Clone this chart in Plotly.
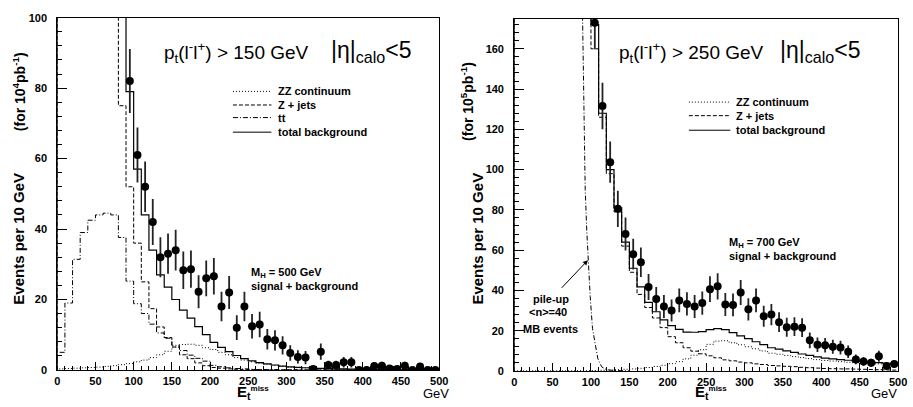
import plotly.graph_objects as go

W, H = 913, 407
FONT = "Liberation Sans"

# ---------------- data: left panel (pt > 150 GeV, M_H = 500 GeV) ----------------
bin_edges = list(range(0, 510, 10))  # 10 GeV bins, 0..500

L_zz = [0.3, 0.4, 0.5, 0.6, 0.7, 0.8, 1.0, 1.2, 1.5, 1.8,
        2.3, 2.8, 3.5, 4.3, 5.3, 6.5, 7.2, 7.3, 7.0, 6.3,
        5.8, 5.0, 4.3, 3.5, 2.8, 2.3, 1.9, 1.6, 1.3, 1.0,
        0.8, 0.65, 0.55, 0.45, 0.38, 0.32, 0.27, 0.23, 0.2, 0.17,
        0.15, 0.13, 0.11, 0.1, 0.09, 0.08, 0.07, 0.06, 0.05, 0.05]
L_zjets = [900, 1220, 1030, 840, 640, 440, 290, 190, 75, 52,
           36, 25, 17.4, 12.2, 9.2, 6.5, 4.3, 3.2, 2.0, 1.2,
           0.7, 0.5, 0.3, 0.2, 0.1, 0.1, 0.1, 0.05, 0.05, 0.05,
           0.05, 0.05, 0.0, 0.0, 0.0, 0.0, 0.0, 0.0, 0.0, 0.0,
           0.0, 0.0, 0.0, 0.0, 0.0, 0.0, 0.0, 0.0, 0.0, 0.0]
L_tt = [5, 19, 31.4, 39, 42.5, 44, 44.5, 44, 37.6, 25.2,
        18.8, 16, 13, 10.5, 9, 7, 5.5, 4.2, 3.3, 2.5,
        1.3, 0.9, 0.6, 0.4, 0.3, 0.2, 0.1, 0.1, 0.1, 0.05,
        0.05, 0.0, 0.0, 0.0, 0.0, 0.0, 0.0, 0.0, 0.0, 0.0,
        0.0, 0.0, 0.0, 0.0, 0.0, 0.0, 0.0, 0.0, 0.0, 0.0]
L_total = [905, 1239, 1031, 839, 643, 445, 296, 195, 114, 79,
           57, 44, 34, 27, 23.5, 20, 17, 14.7, 12.3, 10,
           7.8, 6.4, 5.2, 4.1, 3.2, 2.6, 2.1, 1.7, 1.4, 1.1,
           0.9, 0.75, 0.62, 0.52, 0.45, 0.38, 0.32, 0.28, 0.24, 0.21,
           0.18, 0.16, 0.14, 0.12, 0.1, 0.09, 0.08, 0.07, 0.06, 0.06]

L_pts_x = [95, 105, 115, 125, 135, 145, 155, 165, 175, 185,
           195, 205, 215, 225, 235, 245, 255, 265, 275, 285,
           295, 305, 315, 325, 335, 345, 355, 365, 375, 385,
           395, 405, 415, 425, 435, 445, 455, 465, 475, 485, 495]
L_pts_y = [82, 61, 52, 42, 32, 33, 34, 28.3, 28.6, 22.2,
           26, 26.6, 18, 22, 12, 18, 12.4, 12.9, 8.7, 8.4,
           7, 4.8, 3.7, 3.5, 0.3, 5.2, 1.4, 1.4, 2.2, 2.2,
           0, 0, 1.1, 1.2, 0.4, 0.3, 1.2, 0, 1.0, 0, 0]
L_pts_err = [9.1, 7.8, 7.2, 6.5, 5.7, 5.7, 5.8, 5.3, 5.3, 4.7,
             5.1, 5.2, 4.2, 4.7, 3.5, 4.2, 3.5, 3.6, 2.9, 2.9,
             2.6, 2.2, 1.9, 1.9, 0.5, 2.3, 1.2, 1.2, 1.5, 1.5,
             0, 0, 1.0, 1.1, 0.6, 0.5, 1.1, 0, 1.0, 0, 0]

# ---------------- data: right panel (pt > 250 GeV, M_H = 700 GeV) ----------------
R_zz = [0.05, 0.05, 0.05, 0.05, 0.05, 0.05, 0.05, 0.05, 0.1, 0.1,
        0.2, 0.3, 0.4, 0.6, 0.8, 1.0, 1.3, 1.7, 2.2, 2.8,
        3.6, 4.6, 6.0, 7.8, 10.5, 13.2, 14.8, 15.0, 14.0, 13.0,
        12.0, 11.0, 9.9, 8.8, 8.3, 7.7, 7.1, 6.6, 6.1, 5.6,
        5.2, 4.9, 4.6, 4.3, 4.1, 3.9, 3.7, 3.5, 3.3, 3.1]
R_zjets = [3000, 2500, 2000, 1500, 1200, 900, 700, 500, 350, 250,
           160, 126, 98, 79, 62, 49, 38, 31.5, 26.3, 21.5,
           17, 14, 11.5, 9.8, 8.5, 7.5, 6.5, 5.5, 5.0, 4.4,
           4.0, 3.5, 3.2, 2.7, 2.5, 2.3, 2.1, 1.8, 1.6, 1.4,
           1.2, 1.1, 1.0, 1.0, 0.9, 0.8, 0.7, 0.6, 0.5, 0.4]
R_total = [3000, 2500, 2000, 1500, 1200, 900, 700, 500, 350, 250,
           172, 128, 100, 81, 64, 51, 41.7, 34, 29.4, 25.4,
           22.5, 20.6, 19.3, 19.2, 19.5, 20.5, 21, 20.5, 19, 17.4,
           16, 14.5, 13.1, 11.5, 10.8, 10, 9.2, 8.4, 7.7, 7.0,
           6.4, 6.0, 5.6, 5.3, 5.0, 4.7, 4.4, 4.1, 3.8, 3.5]
R_pileup_x = [80, 89, 90.5, 92.5, 94.5, 96.5, 99, 102, 105.5, 109, 114, 120, 130, 150]
R_pileup_y = [400, 178, 140, 90, 70, 54, 37, 21, 12.5, 6, 2, 0.6, 0.2, 0]

R_pts_x = [105, 115, 125, 135, 145, 155, 165, 175, 185, 195,
           205, 215, 225, 235, 245, 255, 265, 275, 285, 295,
           305, 315, 325, 335, 345, 355, 365, 375, 385, 395,
           405, 415, 425, 435, 445, 455, 465, 475, 485, 495]
R_pts_y = [173, 131.6, 103.7, 80.5, 68, 58, 54, 41.7, 35.7, 32,
           30, 35, 33.3, 32, 33.7, 40.6, 42, 33, 32.8, 39,
           30.6, 35, 27.2, 28, 24.2, 21.7, 22, 21.5, 15.2, 13,
           12.7, 12, 11.6, 9.5, 5.7, 4.7, 4, 7.3, 2.4, 3.4]
R_pts_err = [13.2, 11.5, 10.2, 9.0, 8.2, 7.6, 7.3, 6.5, 6.0, 5.7,
             5.5, 5.9, 5.8, 5.7, 5.8, 6.4, 6.5, 5.7, 5.7, 6.2,
             5.5, 5.9, 5.2, 5.3, 4.9, 4.7, 4.7, 4.6, 3.9, 3.6,
             3.6, 3.5, 3.4, 3.1, 2.4, 2.2, 2.0, 2.7, 1.5, 1.8]

x_ticks = [0, 50, 100, 150, 200, 250, 300, 350, 400, 450, 500]

# ---------------- styles ----------------
DOT = "1px,2px"
DASH = "4px,2px"
DASHDOT = "5px,2px,1px,2px"


def px(x):
    return x / W


def py(y):
    return 1 - y / H


def hist_xy(values):
    xs = [bin_edges[0]] + bin_edges
    ys = [0] + list(values) + [values[-1]]
    return xs, ys


fig = go.Figure()


def add_hist(values, dash, xa, ya, width=1.0):
    xs, ys = hist_xy(values)
    fig.add_trace(go.Scatter(x=xs, y=ys, mode="lines", line_shape="hv",
                             line=dict(color="black", width=width, dash=dash),
                             xaxis=xa, yaxis=ya, showlegend=False, hoverinfo="skip"))


# left panel
add_hist(L_zz, DOT, "x", "y")
add_hist(L_zjets, DASH, "x", "y")
add_hist(L_tt, DASHDOT, "x", "y")
add_hist(L_total, "solid", "x", "y", 1.2)
fig.add_trace(go.Scatter(x=L_pts_x, y=L_pts_y, mode="markers",
                         marker=dict(color="black", size=8, symbol="circle"),
                         error_y=dict(type="data", array=L_pts_err, visible=True,
                                      color="#222", thickness=1.8, width=0),
                         xaxis="x", yaxis="y", showlegend=False))

# right panel
add_hist(R_zz, DOT, "x2", "y2")
add_hist(R_zjets, DASH, "x2", "y2")
add_hist(R_total, "solid", "x2", "y2", 1.2)
fig.add_trace(go.Scatter(x=R_pileup_x, y=R_pileup_y, mode="lines",
                         line=dict(color="black", width=1, dash=DASHDOT),
                         xaxis="x2", yaxis="y2", showlegend=False))
fig.add_trace(go.Scatter(x=R_pts_x, y=R_pts_y, mode="markers",
                         marker=dict(color="black", size=8, symbol="circle"),
                         error_y=dict(type="data", array=R_pts_err, visible=True,
                                      color="#222", thickness=1.8, width=0),
                         xaxis="x2", yaxis="y2", showlegend=False))

tickfont = dict(family=FONT, size=11, color="black", weight="bold")


def xaxis(domain):
    return dict(domain=domain, range=[0, 500], tickvals=x_ticks, ticks="inside",
                ticklen=8, tickwidth=1, tickcolor="black",
                minor=dict(dtick=10, tick0=0, ticks="inside", ticklen=4, tickcolor="black"),
                showline=True, linecolor="black", linewidth=1, mirror=True,
                showgrid=False, zeroline=False, tickfont=tickfont, ticklabelstandoff=1)


def yaxis(domain, rng, anchor):
    return dict(domain=domain, range=rng, dtick=20, tick0=0, ticks="inside",
                ticklen=10, tickwidth=1, tickcolor="black",
                minor=dict(dtick=4, tick0=0, ticks="inside", ticklen=5, tickcolor="black"),
                showline=True, linecolor="black", linewidth=1, mirror=True,
                showgrid=False, zeroline=False, tickfont=tickfont, anchor=anchor,
                ticklabelstandoff=7)


fig.update_layout(
    width=W, height=H, margin=dict(l=0, r=0, t=0, b=0),
    paper_bgcolor="white", plot_bgcolor="white",
    xaxis=xaxis([px(55), px(442)]) | dict(anchor="y"),
    yaxis=yaxis([py(375), py(12)], [0, 100], "x"),
    xaxis2=xaxis([px(518), px(907)]) | dict(anchor="y2"),
    yaxis2=yaxis([py(376), py(13)], [0, 175], "x2"),
    showlegend=False,
)

shapes = []
annos = []


def text(x, y, s, size=11, bold=True, xanchor="left", angle=0, yanchor="middle"):
    annos.append(dict(x=px(x), y=py(y), xref="paper", yref="paper", text=s,
                      showarrow=False, xanchor=xanchor, yanchor=yanchor, textangle=angle,
                      borderpad=0,
                      font=dict(family=FONT, size=size, color="black",
                                weight="bold" if bold else "normal")))


def legend_line(x0, x1, y, dash):
    shapes.append(dict(type="line", xref="paper", yref="paper", x0=px(x0), x1=px(x1),
                       y0=py(y), y1=py(y), line=dict(color="black", width=1, dash=dash)))


# titles
text(162, 48, "p<sub>t</sub>(l<sup>-</sup>l<sup>+</sup>) > 150 GeV", 19, False)
text(331, 47, "|η|<sub>calo</sub>&lt;5", 23, False)
text(623, 48, "p<sub>t</sub>(l<sup>-</sup>l<sup>+</sup>) > 250 GeV", 19, False)
text(786, 47, "|η|<sub>calo</sub>&lt;5", 23, False)

# legends
L_leg = [("ZZ continuum", DOT, 88), ("Z + jets", DASH, 102), ("tt", DASHDOT, 115),
         ("total background", "solid", 130)]
for lab, d, yy in L_leg:
    legend_line(233, 272, yy, d)
    text(278, yy, lab, 11)
R_leg = [("ZZ continuum", DOT, 99), ("Z + jets", DASH, 113), ("total background", "solid", 128)]
for lab, d, yy in R_leg:
    legend_line(695, 737, yy, d)
    text(742, yy, lab, 11)

# signal labels
text(250, 275, "M<sub>H</sub> = 500 GeV", 11)
text(250, 289, "signal + background", 11)
text(735, 244, "M<sub>H</sub> = 700 GeV", 11)
text(735, 258, "signal + background", 11)

# pile-up labels
text(555, 302, "pile-up", 11, True, "center")
text(552, 315, "&lt;n&gt;=40", 11, True, "center")
text(555, 333, "MB events", 11, True, "center")
annos.append(dict(x=96, y=55, xref="x2", yref="y2", ax=60, ay=40.5, axref="x2", ayref="y2",
                  showarrow=True, arrowhead=2, arrowsize=1, arrowwidth=1, arrowcolor="black",
                  text=""))

# axis titles
ET = "E<sub>t</sub><sup><span style='font-size:8px'>miss</span></sup>"
text(17, 88, "(for 10<sup>4</sup>pb<sup>-1</sup>)", 14, True, "center", -90)
text(16, 240, "Events per 10 GeV", 15, True, "center", -90)
text(470, 98, "(for 10<sup>5</sup>pb<sup>-1</sup>)", 14, True, "center", -90)
text(481, 240, "Events per 10 GeV", 15, True, "center", -90)
text(253, 409, ET, 15, True, "center", 0, "bottom")
text(439, 408, "GeV", 13, False, "center", 0, "bottom")
text(717, 409, ET, 15, True, "center", 0, "bottom")
text(893, 408, "GeV", 13, False, "center", 0, "bottom")

fig.update_layout(shapes=shapes, annotations=annos)
fig.write_html("out.html")
